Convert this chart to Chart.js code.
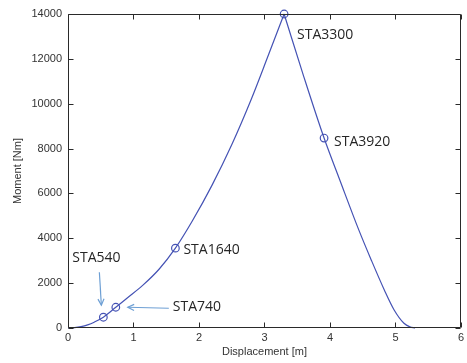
<!DOCTYPE html>
<html>
<head>
<meta charset="utf-8">
<script src="https://cdn.jsdelivr.net/npm/chart.js@4/dist/chart.umd.min.js"></script>
<style>
html,body{margin:0;padding:0;background:#fff;}
#wrap{width:467px;height:363px;}
</style>
</head>
<body>
<div id="wrap"><canvas id="c" width="467" height="363"></canvas></div>
<script>
// ---- data ----
const riseX = [0, 0.1, 0.2, 0.3, 0.4, 0.54, 0.73, 0.9, 1.14, 1.39, 1.64, 1.9, 2.2, 2.5, 2.8, 3.05, 3.3];
const riseY = [0, 15, 60, 140, 260, 480, 925, 1330, 1900, 2620, 3560, 4780, 6370, 8170, 10210, 12090, 14000];
const fallX = [3.3, 3.6, 3.91, 4.15, 4.44, 4.63, 4.83, 4.98, 5.13, 5.22, 5.3];
const fallY = [14000, 11210, 8470, 6600, 4375, 3036, 1696, 804, 210, 50, 0];
const staX = [0.54, 0.73, 1.64, 3.3, 3.91];
const staY = [480, 925, 3560, 14000, 8470];
const staLabels = ['STA540', 'STA740', 'STA1640', 'STA3300', 'STA3920'];
const xTitle = 'Displacement [m]';
const yTitle = 'Moment [Nm]';

const lineColor = '#4452b4';
const axisColor = '#2a2a2a';
const tickFont = {family: 'Liberation Sans, Arial, sans-serif', size: 11};

function pts(xs, ys){ return xs.map((x,i)=>({x:x, y:ys[i]})); }

// label placement (pixel offsets from the marker), arrows
const labelOffsets = [[-31,-59],[57,0],[8,2],[13,21],[10,4]];
const arrows = { 0: {from:[-4,-45], to:[-2,-12]}, 1: {from:[53,1], to:[12,0]} };

const framePlugin = {
  id: 'frame',
  afterDraw(chart){
    const ctx = chart.ctx, a = chart.chartArea;
    const xs = chart.scales.x, ys = chart.scales.y;
    ctx.save();
    ctx.strokeStyle = axisColor;
    ctx.lineWidth = 1;
    const L = Math.round(a.left)+0.5, R = Math.round(a.right)-0.5, T = Math.round(a.top)+0.5, B = Math.round(a.bottom)-0.5;
    ctx.beginPath();
    ctx.rect(L, T, R-L, B-T);
    ctx.stroke();
    const len = 5;
    ctx.beginPath();
    xs.ticks.forEach(t=>{
      const px = Math.round(xs.getPixelForValue(t.value))+0.5;
      ctx.moveTo(px, B); ctx.lineTo(px, B-len);
      ctx.moveTo(px, T); ctx.lineTo(px, T+len);
    });
    ys.ticks.forEach(t=>{
      const py = Math.round(ys.getPixelForValue(t.value))+0.5;
      ctx.moveTo(L, py); ctx.lineTo(L+len, py);
      ctx.moveTo(R, py); ctx.lineTo(R-len, py);
    });
    ctx.stroke();
    ctx.restore();
  }
};

const labelPlugin = {
  id: 'staLabels',
  afterDatasetsDraw(chart){
    const ctx = chart.ctx;
    const xs = chart.scales.x, ys = chart.scales.y;
    ctx.save();
    ctx.font = '14px "Open Sans", "Noto Sans", sans-serif';
    ctx.fillStyle = '#262626';
    ctx.textAlign = 'left';
    ctx.textBaseline = 'middle';
    staX.forEach((x,i)=>{
      const px = xs.getPixelForValue(x), py = ys.getPixelForValue(staY[i]);
      const o = labelOffsets[i];
      ctx.fillText(staLabels[i], px+o[0], py+o[1]);
      const ar = arrows[i];
      if (ar){
        const x1 = px+ar.from[0], y1 = py+ar.from[1], x2 = px+ar.to[0], y2 = py+ar.to[1];
        ctx.strokeStyle = '#6d9fd4';
        ctx.lineWidth = 1.2;
        ctx.beginPath(); ctx.moveTo(x1,y1); ctx.lineTo(x2,y2); ctx.stroke();
        const ang = Math.atan2(y2-y1, x2-x1), h = 7;
        ctx.beginPath();
        ctx.moveTo(x2 - h*Math.cos(ang-0.45), y2 - h*Math.sin(ang-0.45));
        ctx.lineTo(x2, y2);
        ctx.lineTo(x2 - h*Math.cos(ang+0.45), y2 - h*Math.sin(ang+0.45));
        ctx.stroke();
      }
    });
    ctx.restore();
  }
};

new Chart(document.getElementById('c'), {
  type: 'scatter',
  data: {
    datasets: [
      {data: pts(riseX, riseY), showLine: true, borderColor: lineColor, borderWidth: 1.2, pointRadius: 0, cubicInterpolationMode: 'monotone', clip: false},
      {data: pts(fallX, fallY), showLine: true, borderColor: lineColor, borderWidth: 1.2, pointRadius: 0, cubicInterpolationMode: 'monotone', clip: false},
      {data: pts(staX, staY), showLine: false, borderColor: lineColor, backgroundColor: 'rgba(0,0,0,0)', borderWidth: 1.2, pointRadius: 3.8, pointStyle: 'circle', clip: false}
    ]
  },
  options: {
    responsive: false,
    animation: false,
    layout: {autoPadding: false, padding: {left: 0, right: 1, top: 14, bottom: 0}},
    plugins: {legend: {display: false}, tooltip: {enabled: false}},
    scales: {
      x: {
        type: 'linear', min: 0, max: 6,
        ticks: {stepSize: 1, color: '#333', font: tickFont, padding: 3, maxRotation: 0, callback: v => String(v)},
        grid: {display: false, drawTicks: false},
        border: {display: false},
        title: {display: true, text: xTitle, color: '#333', font: tickFont, padding: {top: 0, bottom: 4}},
        afterFit(s){ s.height = 35; }
      },
      y: {
        type: 'linear', min: 0, max: 14000,
        ticks: {stepSize: 2000, color: '#333', font: tickFont, padding: 6, callback: v => String(v)},
        grid: {display: false, drawTicks: false},
        border: {display: false},
        title: {display: true, text: yTitle, color: '#333', font: tickFont, padding: {top: 11, bottom: 0}},
        afterFit(s){ s.width = 68; }
      }
    }
  },
  plugins: [framePlugin, labelPlugin]
});
</script>
</body>
</html>
